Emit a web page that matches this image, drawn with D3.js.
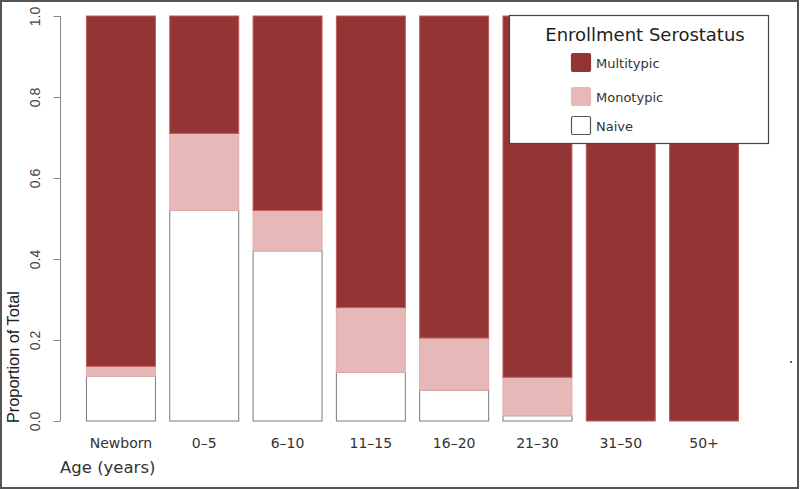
<!DOCTYPE html>
<html><head><meta charset="utf-8">
<script src="https://cdn.jsdelivr.net/npm/d3@7"></script>
<style>html,body{margin:0;padding:0;background:#fff;}svg{display:block;}</style>
</head><body>
<script>
const categories = ["Newborn","0-5","6-10","11-15","16-20","21-30","31-50","50+"];
const naive      = [0.110, 0.520, 0.420, 0.120, 0.076, 0.013, 0, 0];
const monotypic  = [0.025, 0.190, 0.100, 0.160, 0.129, 0.095, 0, 0];
const multitypic = [0.865, 0.290, 0.480, 0.720, 0.795, 0.892, 1, 1];
const yTicks = [0, 0.2, 0.4, 0.6, 0.8, 1.0];
const seriesNames = ["Naive","Monotypic","Multitypic"];
const colors = {Naive:"#ffffff", Monotypic:"#e6b8b8", Multitypic:"#943535"};
const strokes = {Naive:"#7a7a7a", Monotypic:"#e2aaaa", Multitypic:"#c45a5a"};

const W = 800, H = 489;
const svg = d3.select("body").append("svg").attr("width", W).attr("height", H);

const x = d3.scaleBand().domain(categories).range([79.3, 745.7]).paddingInner(0.16).paddingOuter(0.08);
const y = d3.scaleLinear().domain([0, 1]).range([421, 16]);

const rows = categories.map((c, i) => ({cat: c, Naive: naive[i], Monotypic: monotypic[i], Multitypic: multitypic[i]}));
const stack = d3.stack().keys(seriesNames)(rows);

stack.forEach(layer => {
  svg.append("g").selectAll("rect").data(layer).join("rect")
    .attr("x", d => x(d.data.cat) + 0.5)
    .attr("width", x.bandwidth() - 1)
    .attr("y", d => y(d[1]))
    .attr("height", d => Math.max(0, y(d[0]) - y(d[1])))
    .attr("fill", colors[layer.key])
    .attr("stroke", d => (d[1] - d[0]) > 0 ? strokes[layer.key] : "none")
    .attr("stroke-width", 1);
});

// y axis
const yAxis = d3.axisLeft(y).tickValues(yTicks).tickFormat(d3.format(".1f")).tickSize(7).tickPadding(3);
const gy = svg.append("g").attr("transform", "translate(60.5,0)").call(yAxis);
gy.select(".domain").attr("stroke", "#888").attr("d", "M0,16V421");
gy.selectAll(".tick line").attr("stroke", "#888");
gy.selectAll(".tick text")
  .attr("transform", "translate(-25,0) rotate(-90)")
  .attr("x", 0).attr("y", 0).attr("dy", "0.35em")
  .attr("text-anchor", "middle")
  .style("font-family", "'Liberation Sans', Arial, sans-serif")
  .style("font-size", "14px").attr("fill", "#444");

// x labels
svg.append("g").selectAll("text").data(categories).join("text")
  .attr("x", d => x(d) + x.bandwidth() / 2)
  .attr("y", 448)
  .attr("text-anchor", "middle")
  .style("font-family", "'DejaVu Sans', sans-serif")
  .style("font-size", "14px")
  .attr("fill", "#333")
  .text(d => d.replace("-", "\u2013"));

svg.append("text").attr("x", 60).attr("y", 473)
  .style("font-family", "'DejaVu Sans', sans-serif").style("font-size", "16.5px").attr("fill", "#333")
  .text("Age (years)");

svg.append("text").attr("transform", "translate(19,423) rotate(-90)")
  .style("font-family", "'Liberation Sans', Arial, sans-serif").style("font-size", "17px").attr("fill", "#222")
  .attr("textLength", 132).attr("lengthAdjust", "spacingAndGlyphs")
  .text("Proportion of Total");

// legend
const lg = svg.append("g");
lg.append("rect").attr("x", 509.5).attr("y", 15.5).attr("width", 259).attr("height", 128)
  .attr("fill", "#fff").attr("stroke", "#444").attr("stroke-width", 1.2);
lg.append("text").attr("x", 645).attr("y", 41).attr("text-anchor", "middle")
  .style("font-family", "'DejaVu Sans', sans-serif").style("font-size", "18px").attr("fill", "#222")
  .text("Enrollment Serostatus");
const legendItems = ["Multitypic","Monotypic","Naive"];
const legendY = [53, 87, 116];
legendItems.forEach((k, i) => {
  lg.append("rect").attr("x", 571.5).attr("y", legendY[i] + 0.5).attr("width", 19).attr("height", 18).attr("rx", 1.5)
    .attr("fill", colors[k]).attr("stroke", k === "Naive" ? "#555" : colors[k]).attr("stroke-width", 1.2);
  lg.append("text").attr("x", 596).attr("y", legendY[i] + 10).attr("dy", "0.35em")
    .style("font-family", "'DejaVu Sans', sans-serif").style("font-size", "13px").attr("fill", "#333")
    .text(k);
});

// stray dot
svg.append("circle").attr("cx", 791).attr("cy", 362).attr("r", 1).attr("fill", "#333");

// outer frame
svg.append("rect").attr("x", 1).attr("y", 1).attr("width", W - 3).attr("height", H - 2)
  .attr("fill", "none").attr("stroke", "#555").attr("stroke-width", 2);
</script>
</body></html>
